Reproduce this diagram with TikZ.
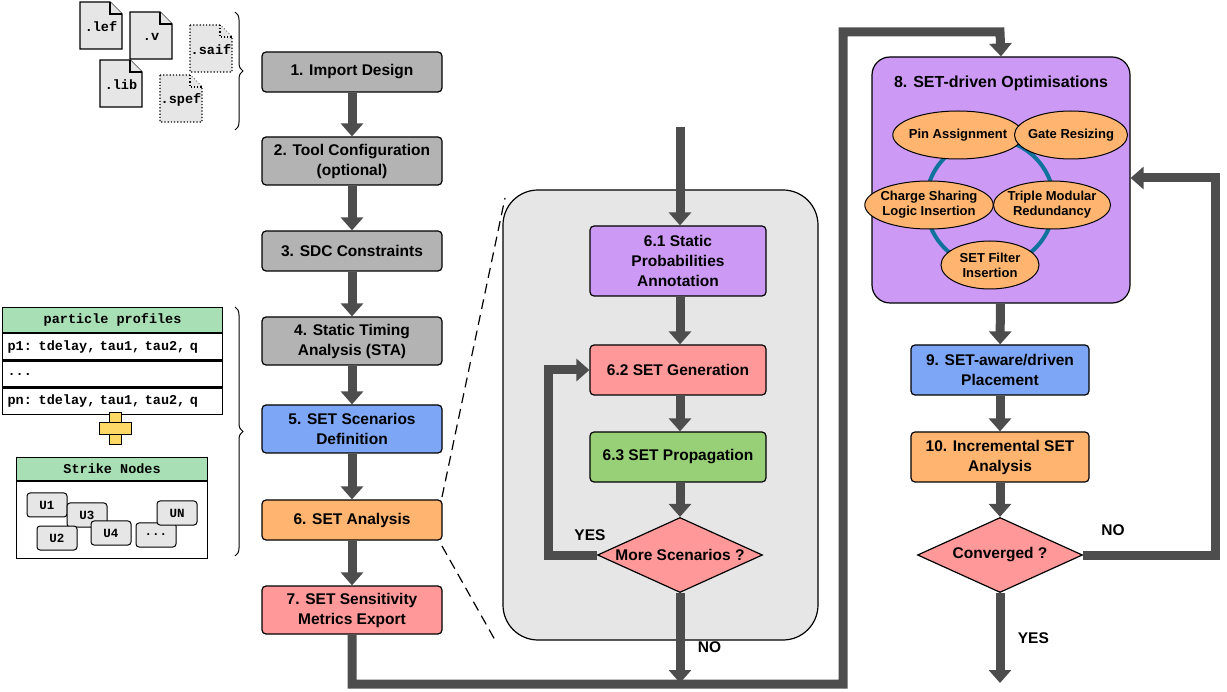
\documentclass[tikz,border=0pt]{standalone}
\usepackage{fontspec}
\setmainfont{Liberation Sans}
\setmonofont{Liberation Mono}
\usetikzlibrary{arrows.meta,shapes.geometric,decorations.pathreplacing,positioning}
\definecolor{stepgray}{HTML}{B3B3B3}
\definecolor{stepblue}{HTML}{7EA6F6}
\definecolor{steporange}{HTML}{FFB570}
\definecolor{stepred}{HTML}{FF9999}
\definecolor{stepgreen}{HTML}{97D077}
\definecolor{steppurple}{HTML}{CC99F5}
\definecolor{tabgreen}{HTML}{A9DFB5}
\definecolor{plusyellow}{HTML}{FFD966}
\definecolor{arrgray}{HTML}{4D4D4D}
\definecolor{ringteal}{HTML}{10739E}
\definecolor{panelgray}{HTML}{E6E6E6}
\tikzset{
  stepbox/.style={draw, line width=1.2pt, rounded corners=4pt, minimum width=180pt, minimum height=40pt,
    align=center, font=\bfseries\fontsize{15.5}{20}\selectfont},
  dec/.style={draw, line width=1.2pt, diamond, aspect=2.2, minimum width=165pt, minimum height=75pt,
    inner sep=0pt, fill=stepred, font=\bfseries\fontsize{15.5}{20}\selectfont},
  opt/.style={draw, line width=1pt, ellipse, fill=steporange, minimum width=98pt, minimum height=48pt,
    inner sep=-3pt, align=center, font=\bfseries\fontsize{13}{15}\selectfont},
  flow/.style={line width=9pt, draw=arrgray, -{Triangle[length=13pt,width=22pt]}},
  lbl/.style={font=\bfseries\fontsize{15.5}{20}\selectfont},
  file/.style={draw, line width=1.2pt, fill=panelgray},
  unode/.style={draw, line width=1pt, rounded corners=3pt, fill=panelgray, minimum width=40pt,
    minimum height=24pt, font=\ttfamily\bfseries\fontsize{12.5}{14}\selectfont},
  tt/.style={font=\ttfamily\bfseries\fontsize{13.5}{15}\selectfont},
}
\newcommand{\docicon}[4]{% x, y, label, style
  \draw[file,#4] (#1,#2) -- ++(30,0) -- ++(12,12) -- ++(0,35) -- ++(-42,0) -- cycle;
  \draw[file,#4] (#1+30,#2) -- ++(0,12) -- ++(12,0);
  \node[tt] at (#1+21,#2+25) {#3};
}
\begin{document}
\begin{tikzpicture}[x=1pt,y=-1pt]
\useasboundingbox (0,0) rectangle (1227,692);
%FILES
\docicon{80}{2}{.lef}{}
\docicon{130}{12}{.v}{}
\docicon{190}{25}{.saif}{dotted}
\docicon{100}{60}{.lib}{}
\docicon{160}{75}{.spef}{dotted}
\draw[line width=1pt, decorate, decoration={brace, amplitude=8pt}] (235,12) -- (235,130);
\draw[line width=1pt, decorate, decoration={brace, amplitude=8pt}] (235,307) -- (235,556);
%TABLE
\node[draw, line width=1.2pt, fill=tabgreen, minimum width=220pt, minimum height=25pt, tt, anchor=north west] (tabhead) at (2,307) {particle profiles};
\node[draw, line width=1.2pt, fill=white, minimum width=220pt, minimum height=26pt, tt, anchor=north west, text width=210pt] (row1) at (tabhead.south west) {p1: tdelay, tau1, tau2, q};
\node[draw, line width=1.2pt, fill=white, minimum width=220pt, minimum height=26pt, tt, anchor=north west, text width=210pt] (row2) at (row1.south west) {...};
\node[draw, line width=1.2pt, fill=white, minimum width=220pt, minimum height=26pt, tt, anchor=north west, text width=210pt] (row3) at (row2.south west) {pn: tdelay, tau1, tau2, q};
\fill[plusyellow, draw=black, line width=1pt] (109,413) rectangle (121,445);
\fill[plusyellow, draw=black, line width=1pt] (99,423) rectangle (131,435);
\fill[plusyellow] (110,424) rectangle (120,434);
\node[draw, line width=1.2pt, fill=tabgreen, minimum width=191pt, minimum height=23pt, tt, anchor=north west] (strhead) at (16,457) {Strike Nodes};
\node[draw, line width=1.2pt, fill=white, minimum width=191pt, minimum height=77pt, anchor=north west] (strbody) at (strhead.south west) {};
\node[unode] (u1) at (47,505) {U1};
\node[unode] (u3) at (87,515) {U3};
\node[unode] (u2) at (57,538) {U2};
\node[unode] (u4) at (111,533) {U4};
\node[unode] (udots) at (156,535) {...};
\node[unode] (un) at (177,513) {UN};
%PANEL
\draw[dash pattern=on 10pt off 6pt, line width=1.2pt] (442,497) -- (505,198);
\draw[dash pattern=on 10pt off 6pt, line width=1.2pt] (442,546) -- (495,640);
\fill[panelgray, draw=black, line width=1.2pt, rounded corners=35pt] (503,190) rectangle (818,640);
%LEFT COLUMN
\node[stepbox, fill=stepgray] (s1) at (352,72) {1. Import Design};
\node[stepbox, fill=stepgray, minimum height=48pt] (s2) at (352,161) {2. Tool Configuration\\(optional)};
\node[stepbox, fill=stepgray] (s3) at (352,251) {3. SDC Constraints};
\node[stepbox, fill=stepgray, minimum height=48pt] (s4) at (352,341) {4. Static Timing\\Analysis (STA)};
\node[stepbox, fill=stepblue, minimum height=48pt] (s5) at (352,429) {5. SET Scenarios\\Definition};
\node[stepbox, fill=steporange] (s6) at (352,520) {6. SET Analysis};
\node[stepbox, fill=stepred, minimum height=48pt] (s7) at (352,610) {7. SET Sensitivity\\Metrics Export};
\foreach \a/\b in {s1/s2,s2/s3,s3/s4,s4/s5,s5/s6,s6/s7}
  \draw[flow] (\a) -- (\b);
%MIDDLE
\coordinate (mtop) at (680,127);
\coordinate (mbot) at (680,683);
\node[stepbox, fill=steppurple, minimum width=176pt, minimum height=70pt] (m1) at (678,261) {6.1 Static\\Probabilities\\Annotation};
\node[stepbox, fill=stepred, minimum width=176pt, minimum height=50pt] (m2) at (678,370) {6.2 SET Generation};
\node[stepbox, fill=stepgreen, minimum width=176pt, minimum height=50pt] (m3) at (678,457) {6.3 SET Propagation};
\node[dec] (m4) at (680,555) {More Scenarios ?};
\draw[flow] (mtop) -- (m1.north -| mtop);
\draw[flow] (m1.south -| mtop) -- (m2.north -| mtop);
\draw[flow] (m2.south -| mtop) -- (m3.north -| mtop);
\draw[flow] (m3.south -| mtop) -- (m4);
\draw[flow] (m4) -- (mbot) node[pos=0.6, right=10pt, lbl] {NO};
\draw[flow] (m4.west) -| (548,370) -- (m2.west);
\node[lbl] at (590,535) {YES};
%RIGHT COLUMN
\node[stepbox, fill=steppurple, minimum width=258pt, minimum height=246pt, rounded corners=18pt] (r8) at (1001,180) {};
\node[lbl, font=\bfseries\fontsize{16}{20}\selectfont] (r8t) at (1001,83) {8. SET-driven Optimisations};
\draw[ringteal, line width=4pt] (990,203) circle (64);
\node[opt] (pin) at (958,135) {Pin Assignment};
\node[opt] (gate) at (1071,135) {Gate Resizing};
\node[opt] (chg) at (929,205) {Charge Sharing\\Logic Insertion};
\node[opt] (tmr) at (1052,205) {Triple Modular\\Redundancy};
\node[opt] (flt) at (990,265) {SET Filter\\Insertion};
\node[stepbox, fill=stepblue, minimum width=178pt, minimum height=50pt] (r9) at (1000,370) {9. SET-aware/driven\\Placement};
\node[stepbox, fill=steporange, minimum width=178pt, minimum height=50pt] (r10) at (1000,457) {10. Incremental SET\\Analysis};
\node[dec] (r11) at (1000,555) {Converged ?};
\coordinate (rbot) at (1000,683);
\draw[flow] (r8) -- (r9);
\draw[flow] (r9) -- (r10);
\draw[flow] (r10) -- (r11);
\draw[flow] (r11) -- (rbot) node[pos=0.5, right=10pt, lbl] {YES};
\draw[flow] (r11.east) -- (1215,555) -- (1215,178) -- (r8.east |- 0,178);
\node[lbl] at (1113,530) {NO};
\draw[flow] (s7.south) -- (352,684) -- (843,684) -- (843,32) -- (1000,32) -- (r8.north);
\end{tikzpicture}
\end{document}
